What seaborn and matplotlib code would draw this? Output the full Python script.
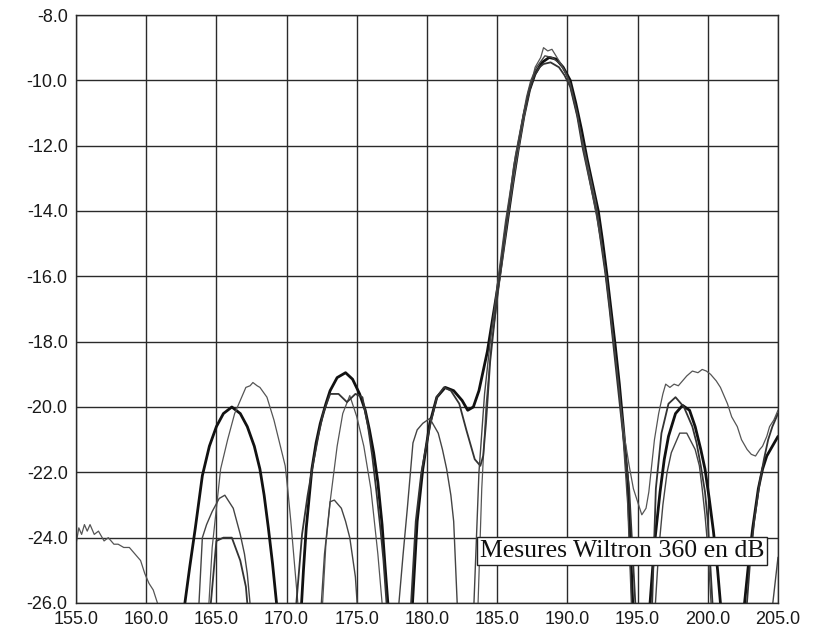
import numpy as np
import pandas as pd
import matplotlib
matplotlib.use("Agg")
import matplotlib.pyplot as plt
import seaborn as sns

# frequency axis / level values (nulls below -26 dB are off-scale)
a_x = [162.6, 163.1, 163.5, 164.0, 164.5, 165.0, 165.5, 166.1, 166.7, 167.2, 167.7, 168.1,
       168.4, 168.7, 169.0, 169.4,
       170.3,
       171.0, 171.2, 171.4, 171.8, 172.1, 172.4, 172.8, 173.1, 173.6, 174.2, 174.7, 175.2,
       175.6, 175.9, 176.2, 176.5, 176.8, 177.0, 177.3,
       178.1,
       178.9, 179.3, 179.7, 180.2, 180.7, 181.3, 181.9, 182.5, 182.9, 183.3, 183.7, 184.0,
       184.3, 184.6, 184.9, 185.2, 185.5, 185.8, 186.1, 186.5, 186.9, 187.3, 187.7, 188.2,
       188.7, 189.2, 189.7, 190.2, 190.6, 191.0, 191.4, 191.8, 192.2, 192.5, 192.8, 193.1,
       193.4, 193.7, 194.0, 194.3, 194.7,
       195.3,
       195.8, 196.2, 196.6, 196.9, 197.2, 197.7, 198.2, 198.7, 199.1, 199.5, 199.8, 200.1,
       200.4, 200.7, 201.0,
       201.8,
       202.5, 202.9, 203.2, 203.6, 203.9, 204.2, 204.6, 205.0]
a_y = [-26.5, -24.9, -23.7, -22.1, -21.2, -20.6, -20.2, -20.0, -20.2, -20.6, -21.2, -21.9,
       -22.7, -23.7, -24.8, -26.5,
       -30.0,
       -26.5, -25.0, -23.7, -21.9, -21.1, -20.5, -19.9, -19.5, -19.1, -18.95, -19.15, -19.6,
       -20.1, -20.7, -21.4, -22.3, -23.6, -24.8, -26.5,
       -30.0,
       -26.5, -23.5, -21.9, -20.5, -19.7, -19.4, -19.5, -19.8, -20.1, -20.0, -19.5, -18.9,
       -18.3, -17.5, -16.7, -15.9, -15.0, -14.1, -13.2, -12.1, -11.1, -10.3, -9.8, -9.45,
       -9.3, -9.35, -9.6, -10.0, -10.7, -11.5, -12.4, -13.2, -14.0, -14.9, -15.9, -17.0,
       -18.1, -19.3, -20.7, -22.3, -26.5,
       -30.0,
       -26.5, -24.2, -22.6, -21.6, -20.9, -20.2, -19.95, -20.1, -20.6, -21.3, -21.9, -22.8,
       -23.8, -25.0, -26.5,
       -30.0,
       -26.5, -24.8, -23.7, -22.5, -21.9, -21.5, -21.2, -20.9]

b_x = [155.0, 155.2, 155.4, 155.6, 155.8, 156.0, 156.3, 156.6, 157.0, 157.3, 157.7, 158.0,
       158.4, 158.8, 159.2, 159.6, 159.9, 160.2, 160.5, 160.8, 161.2,
       162.8,
       164.4, 164.7, 165.0, 165.3, 165.8, 166.3, 166.7, 167.1, 167.4, 167.6, 167.9, 168.1,
       168.6, 169.1, 169.5, 169.9, 170.1, 170.3, 170.6, 170.9,
       171.7,
       172.5, 172.8, 173.1, 173.6, 174.0, 174.5, 175.0, 175.5, 176.0, 176.5, 176.9,
       180.0,
       183.6, 183.9, 184.2, 184.6, 184.9, 185.1, 185.4, 185.7, 186.0, 186.4, 186.8, 187.2,
       187.7, 188.1, 188.3, 188.6, 188.9, 189.4, 189.8, 190.1, 190.6, 191.0, 191.5, 192.0,
       192.3, 192.6, 192.9, 193.2, 193.5, 193.8, 194.1, 194.4, 194.7, 195.0, 195.3, 195.6,
       195.8, 196.0, 196.2, 196.5, 196.8, 197.0, 197.3, 197.6, 197.9, 198.2, 198.5, 198.9,
       199.3, 199.6, 199.9, 200.2, 200.6, 200.9, 201.4, 201.7, 202.1, 202.4, 202.8, 203.1,
       203.4, 203.7, 203.9, 204.2, 204.4, 204.7, 205.0]
b_y = [-24.2, -23.7, -23.9, -23.6, -23.8, -23.6, -23.9, -23.8, -24.1, -24.0, -24.2, -24.2,
       -24.3, -24.3, -24.5, -24.7, -25.1, -25.4, -25.6, -26.0, -27.0,
       -30.0,
       -26.5, -24.3, -23.1, -21.9, -21.0, -20.2, -19.8, -19.4, -19.35, -19.25, -19.35, -19.4,
       -19.7, -20.4, -21.1, -21.8, -22.6, -23.5, -25.0, -26.5,
       -30.0,
       -26.5, -24.2, -22.9, -21.2, -20.2, -19.65, -20.3, -21.2, -22.5, -24.5, -26.5,
       -30.0,
       -26.5, -22.5, -20.0, -18.0, -17.1, -16.4, -15.4, -14.4, -13.5, -12.4, -11.4, -10.5,
       -9.6, -9.3, -9.0, -9.1, -9.05, -9.4, -9.7, -10.0, -10.9, -11.7, -12.7, -13.7,
       -14.5, -15.5, -16.6, -17.7, -18.8, -20.0, -21.0, -21.8, -22.5, -22.9, -23.3, -23.1,
       -22.6, -21.8, -21.0, -20.2, -19.6, -19.3, -19.4, -19.3, -19.35, -19.2, -19.05, -18.9,
       -18.95, -18.85, -18.9, -19.0, -19.2, -19.4, -19.9, -20.3, -20.6, -21.0, -21.3, -21.45,
       -21.5, -21.3, -21.2, -20.9, -20.6, -20.4, -20.1]

c_x = [164.5, 165.0, 165.5, 166.1, 166.7, 167.1, 167.3,
       169.0,
       170.6, 171.1, 171.5, 171.9, 172.3, 172.6, 173.1, 173.7, 174.3, 174.9, 175.4, 175.8,
       176.1, 176.4, 176.7, 176.9, 177.2,
       178.0,
       178.8, 179.2, 179.6, 180.2, 180.7, 181.2, 181.7, 182.3, 182.8, 183.4, 183.8, 184.0,
       184.2, 184.5, 184.8, 185.0, 185.3, 185.5, 185.9, 186.2, 186.6, 186.9, 187.3, 187.6,
       188.0, 188.3, 188.8, 189.4, 189.8, 190.2, 190.7, 191.1, 191.6, 192.1, 192.4, 192.7,
       193.0, 193.3, 193.6, 193.9, 194.4, 194.9,
       195.5,
       196.0, 196.3, 196.7, 197.2, 197.7, 198.3, 198.9, 199.2, 199.5, 199.8, 200.0, 200.4,
       201.5,
       202.7, 203.0, 203.3, 203.7, 204.0, 204.3, 204.6, 205.0]
c_y = [-26.5, -24.1, -24.0, -24.0, -24.7, -25.5, -26.5,
       -30.0,
       -26.5, -23.9, -22.7, -21.7, -20.8, -20.2, -19.6, -19.6, -19.85, -19.6, -19.7, -20.6,
       -21.5, -22.6, -23.8, -24.7, -26.5,
       -30.0,
       -26.5, -23.5, -22.0, -20.6, -19.7, -19.4, -19.5, -19.9, -20.7, -21.6, -21.8, -21.5,
       -20.5, -18.6, -17.4, -16.6, -15.6, -14.8, -13.6, -12.6, -11.7, -11.0, -10.3, -9.9,
       -9.6, -9.5, -9.45, -9.6, -9.85, -10.2, -11.1, -12.1, -13.1, -14.1, -15.0, -15.9,
       -17.0, -18.2, -19.4, -20.6, -22.5, -26.5,
       -30.0,
       -26.5, -22.5, -20.8, -19.9, -19.7, -20.0, -20.6, -21.1, -21.8, -22.6, -23.5, -26.5,
       -30.0,
       -26.5, -24.8, -23.5, -22.3, -21.6, -21.0, -20.6, -20.2]

d_x = [163.7, 164.0, 164.3, 164.7, 165.2, 165.6, 166.2, 166.7, 167.0, 167.2, 167.5,
       170.0,
       172.4, 172.7, 173.1, 173.4, 173.9, 174.2, 174.5, 174.9, 175.1,
       176.5,
       177.9, 178.3, 178.6, 179.0, 179.3, 179.7, 180.2, 180.8, 181.1, 181.4, 181.7, 181.9, 182.2,
       182.8,
       183.3, 183.7, 184.1, 184.5, 184.8, 185.0, 185.3, 185.6, 186.0, 186.3, 186.7, 187.1,
       187.4, 187.8, 188.4, 188.9, 189.5, 189.9, 190.2, 190.7, 191.1, 191.6, 192.1, 192.5,
       192.8, 193.1, 193.4, 193.7, 193.9, 194.3, 194.6,
       195.4,
       196.2, 196.5, 196.8, 197.1, 197.4, 198.0, 198.5, 199.1, 199.4, 199.6, 199.8, 200.0, 200.3,
       202.5,
       204.5, 205.0]
d_y = [-26.5, -24.0, -23.6, -23.2, -22.8, -22.7, -23.1, -23.9, -24.5, -25.1, -26.5,
       -30.0,
       -26.5, -24.5, -22.9, -22.85, -23.1, -23.5, -24.0, -25.2, -26.5,
       -30.0,
       -26.5, -24.5, -23.1, -21.1, -20.7, -20.5, -20.35, -20.8, -21.3, -21.9, -22.7, -23.5, -26.5,
       -30.0,
       -26.5, -22.0, -19.6, -18.0, -17.0, -16.3, -15.3, -14.3, -13.2, -12.3, -11.4, -10.5,
       -10.0, -9.6, -9.25, -9.3, -9.5, -9.8, -10.1, -11.0, -12.0, -13.1, -14.2, -15.2,
       -16.1, -17.2, -18.4, -19.5, -20.5, -23.0, -26.5,
       -30.0,
       -26.5, -24.4, -23.0, -22.0, -21.4, -20.8, -20.8, -21.3, -21.8, -22.5, -23.3, -24.3, -26.5,
       -30.0,
       -26.5, -24.6]

x_ticks = [155, 160, 165, 170, 175, 180, 185, 190, 195, 200, 205]
y_ticks = [-26, -24, -22, -20, -18, -16, -14, -12, -10, -8]
label = "Mesures Wiltron 360 en dB"

sns.set_style("white")
plt.rcParams['font.family'] = ['Liberation Sans', 'DejaVu Sans']

fig = plt.figure(figsize=(8.16, 6.34), dpi=100)
ax = fig.add_axes([76 / 816, 31 / 634, 702 / 816, 588 / 634])

series = [(a_x, a_y, "#111111", 2.0),
          (b_x, b_y, "#555555", 0.9),
          (c_x, c_y, "#333333", 1.3),
          (d_x, d_y, "#444444", 1.0)]
for xs, ys, col, lw in series:
    sns.lineplot(x=xs, y=ys, ax=ax, color=col, linewidth=lw, sort=False, estimator=None)

ax.set_xlim(155, 205)
ax.set_ylim(-26, -8)
ax.set_xticks(x_ticks)
ax.set_yticks(y_ticks)
ax.set_xticklabels(["%.1f" % v for v in x_ticks])
ax.set_yticklabels(["%.1f" % v for v in y_ticks])
ax.grid(True, color="#2a2a2a", linewidth=1.0)
ax.set_axisbelow(True)
for s in ax.spines.values():
    s.set_color("#2a2a2a")
    s.set_linewidth(1.0)
ax.tick_params(axis="both", direction="out", length=5, width=1, color="#2a2a2a",
               labelsize=13, labelcolor="#1a1a1a", pad=1)
ax.set_xlabel("")
ax.set_ylabel("")

ax.text(183.75, -24.4, label, fontsize=18.5, family=["Liberation Serif", "DejaVu Serif"],
        color="#111111", va="center", ha="left",
        bbox=dict(boxstyle="square,pad=0.12", facecolor="white", edgecolor="#222222", linewidth=1))

fig.savefig("out.png", dpi=100)
